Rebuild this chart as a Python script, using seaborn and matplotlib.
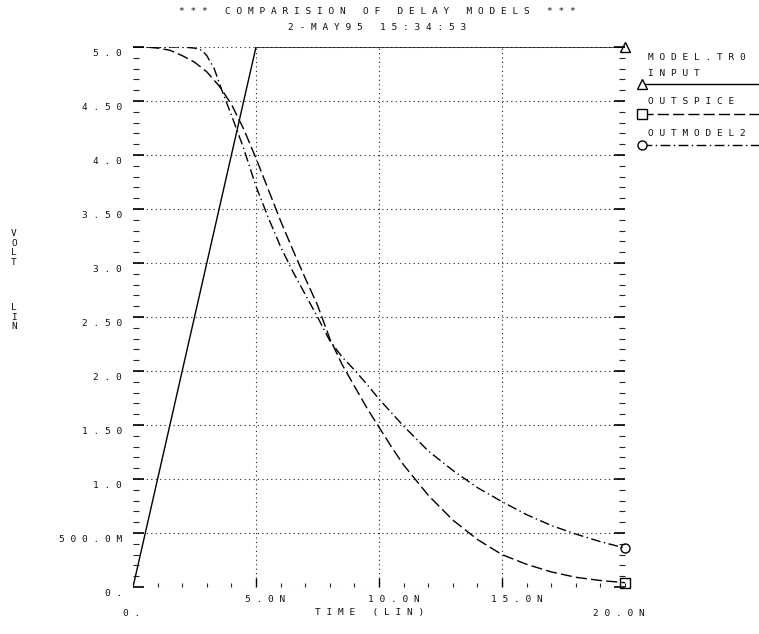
import matplotlib
matplotlib.use("Agg")
import numpy as np
import pandas as pd
import seaborn as sns
import matplotlib.pyplot as plt
from matplotlib.lines import Line2D
from matplotlib.transforms import offset_copy

# ---------------- data ----------------
input_t = [0.0, 5.0, 20.0]
input_v = [0.0, 5.0, 5.0]

outspice_t = [0, 0.5, 1, 1.5, 2, 2.5, 3, 3.5, 4, 4.5, 5, 5.5, 6, 6.5, 7, 7.5, 8,
              8.5, 9, 9.5, 10, 10.5, 11, 12, 13, 14, 15, 16, 17, 18, 19, 20]
outspice_v = [5.00, 5.00, 4.99, 4.97, 4.92, 4.86, 4.77, 4.64, 4.47, 4.24, 3.97,
              3.68, 3.39, 3.12, 2.86, 2.61, 2.30, 2.06, 1.86, 1.66, 1.48, 1.30,
              1.13, 0.85, 0.62, 0.44, 0.30, 0.21, 0.14, 0.09, 0.06, 0.04]

outmodel2_t = [0, 1, 2, 2.5, 2.8, 3.0, 3.3, 3.66, 4.0, 4.5, 5.0, 5.5, 6.0, 6.5,
               7.0, 7.5, 8.0, 8.5, 9, 9.5, 10, 11, 12, 13, 14, 15, 16, 17, 18,
               19, 20]
outmodel2_v = [5.0, 5.0, 5.0, 4.99, 4.97, 4.92, 4.80, 4.57, 4.37, 4.06, 3.71,
               3.42, 3.15, 2.92, 2.71, 2.50, 2.28, 2.13, 2.01, 1.88, 1.74, 1.49,
               1.26, 1.08, 0.92, 0.79, 0.67, 0.57, 0.49, 0.42, 0.36]

x_tick_vals = [0, 5, 10, 15, 20]
x_tick_labels = ["0.", "5.0N", "10.0N", "15.0N", "20.0N"]
y_tick_vals = [0, 0.5, 1.0, 1.5, 2.0, 2.5, 3.0, 3.5, 4.0, 4.5, 5.0]
y_tick_labels = ["0.", "500.0M", "1.0", "1.50", "2.0", "2.50", "3.0", "3.50",
                 "4.0", "4.50", "5.0"]

title1 = "*** COMPARISION OF DELAY MODELS ***"
title2 = "2-MAY95 15:34:53"
xlabel = "TIME (LIN)"
ylabel_parts = ["VOLT", "LIN"]
legend_title = "MODEL.TR0"
series_names = ["INPUT", "OUTSPICE", "OUTMODEL2"]

# ---------------- style ----------------
sns.set_style("white")
plt.rcParams["font.family"] = ["DejaVu Sans Mono"]
FS = 6.8
TC = "#111111"

W, H = 759, 634
fig = plt.figure(figsize=(W / 100, H / 100), dpi=100)


def fx(px):
    return px / W


def fy(py):
    return 1 - py / H


def sp(s):
    return " ".join(s)


ax = fig.add_axes([fx(133), fy(587), 492 / W, 540 / H])

LW = 1.0
ls_input = "-"
ls_spice = (0, (8, 3))
ls_model = (0, (7, 2.5, 1, 2.5))

sns.lineplot(x=input_t, y=input_v, ax=ax, color="black", lw=LW,
             estimator=None, sort=False, linestyle=ls_input)
sns.lineplot(x=outspice_t, y=outspice_v, ax=ax, color="black", lw=LW,
             estimator=None, sort=False, linestyle=ls_spice)
sns.lineplot(x=outmodel2_t, y=outmodel2_v, ax=ax, color="black", lw=LW,
             estimator=None, sort=False, linestyle=ls_model)

mk = dict(color="black", markerfacecolor="none", markeredgecolor="black",
          markeredgewidth=1.0, markersize=6.5, clip_on=False, zorder=5,
          linestyle="none")
ax.plot([input_t[-1]], [input_v[-1]], marker="^", **mk)
ax.plot([outspice_t[-1]], [outspice_v[-1]], marker="s", **mk)
ax.plot([outmodel2_t[-1]], [outmodel2_v[-1]], marker="o", **mk)

ax.set_xlim(0, 20)
ax.set_ylim(0, 5)
ax.set_xticks([5, 10, 15])
ax.set_xticks(np.arange(0, 21, 1), minor=True)
ax.set_yticks(y_tick_vals)
ax.set_yticks(np.round(np.arange(0, 5.01, 0.1), 2), minor=True)
ax.tick_params(colors="black")
ax.tick_params(axis="y", which="major", direction="in", left=True, right=True,
               length=8, width=1.2, labelleft=False)
ax.tick_params(axis="y", which="minor", direction="in", left=True, right=True,
               length=4.3, width=0.8)
ax.tick_params(axis="x", which="major", direction="in", bottom=True, top=False,
               length=6.5, width=1.0, labelbottom=False)
ax.tick_params(axis="x", which="minor", direction="in", bottom=True, top=False,
               length=3, width=0.8)
ax.grid(True, which="major", axis="both", color="#222222",
        linestyle=(0, (1, 3)), linewidth=0.8)
ax.set_axisbelow(True)
for s in ax.spines.values():
    s.set_visible(False)
ax.set_xlabel("")
ax.set_ylabel("")

# y tick labels (right aligned, slightly below tick)
ytr = offset_copy(ax.get_yaxis_transform(), fig=fig, x=-11, y=-6, units="dots")
for v, lab in zip(y_tick_vals, y_tick_labels):
    ax.text(0, v, sp(lab), transform=ytr, ha="right", va="center",
            fontsize=FS, color=TC)

# x tick labels
xtr_up = offset_copy(ax.get_xaxis_transform(), fig=fig, x=-11, y=-13, units="dots")
xtr_lo0 = offset_copy(ax.get_xaxis_transform(), fig=fig, x=-10, y=-26, units="dots")
xtr_loN = offset_copy(ax.get_xaxis_transform(), fig=fig, x=-32, y=-26, units="dots")
for i, (v, lab) in enumerate(zip(x_tick_vals, x_tick_labels)):
    if i == 0:
        tr = xtr_lo0
    elif i == len(x_tick_vals) - 1:
        tr = xtr_loN
    else:
        tr = xtr_up
    ax.text(v, 0, sp(lab), transform=tr, ha="left", va="center",
            fontsize=FS, color=TC)

# axis labels
fig.text(fx(315), fy(613), sp(xlabel), ha="left", va="center", fontsize=FS,
         color=TC)
fig.text(fx(14), fy(248), "\n".join(ylabel_parts[0]), ha="center",
         va="center", fontsize=FS, linespacing=1.05, color=TC)
fig.text(fx(14), fy(317), "\n".join(ylabel_parts[1]), ha="center",
         va="center", fontsize=FS, linespacing=1.05, color=TC)

# titles
fig.text(fx(377), fy(12), sp(title1), ha="center", va="center", fontsize=FS,
         color=TC)
fig.text(fx(377), fy(28), sp(title2), ha="center", va="center", fontsize=FS,
         color=TC)

# legend (custom, right side)
fig.text(fx(648), fy(57), sp(legend_title), ha="left", va="center",
         fontsize=FS, color=TC)
text_y = [73, 102, 133]
line_y = [84, 114, 145]
styles = [ls_input, ls_spice, ls_model]
markers = ["^", "s", "o"]
for name, ty, ly, st, m in zip(series_names, text_y, line_y, styles, markers):
    fig.text(fx(648), fy(ty), sp(name), ha="left", va="center", fontsize=FS,
             color=TC)
    fig.add_artist(Line2D([fx(642), fx(759)], [fy(ly), fy(ly)],
                          transform=fig.transFigure, color="black", lw=LW,
                          linestyle=st))
    fig.add_artist(Line2D([fx(642)], [fy(ly)], transform=fig.transFigure,
                          marker=m, markersize=6.5, markerfacecolor="white",
                          markeredgecolor="black", markeredgewidth=1.0,
                          linestyle="none"))

fig.savefig("out.png", dpi=100)
